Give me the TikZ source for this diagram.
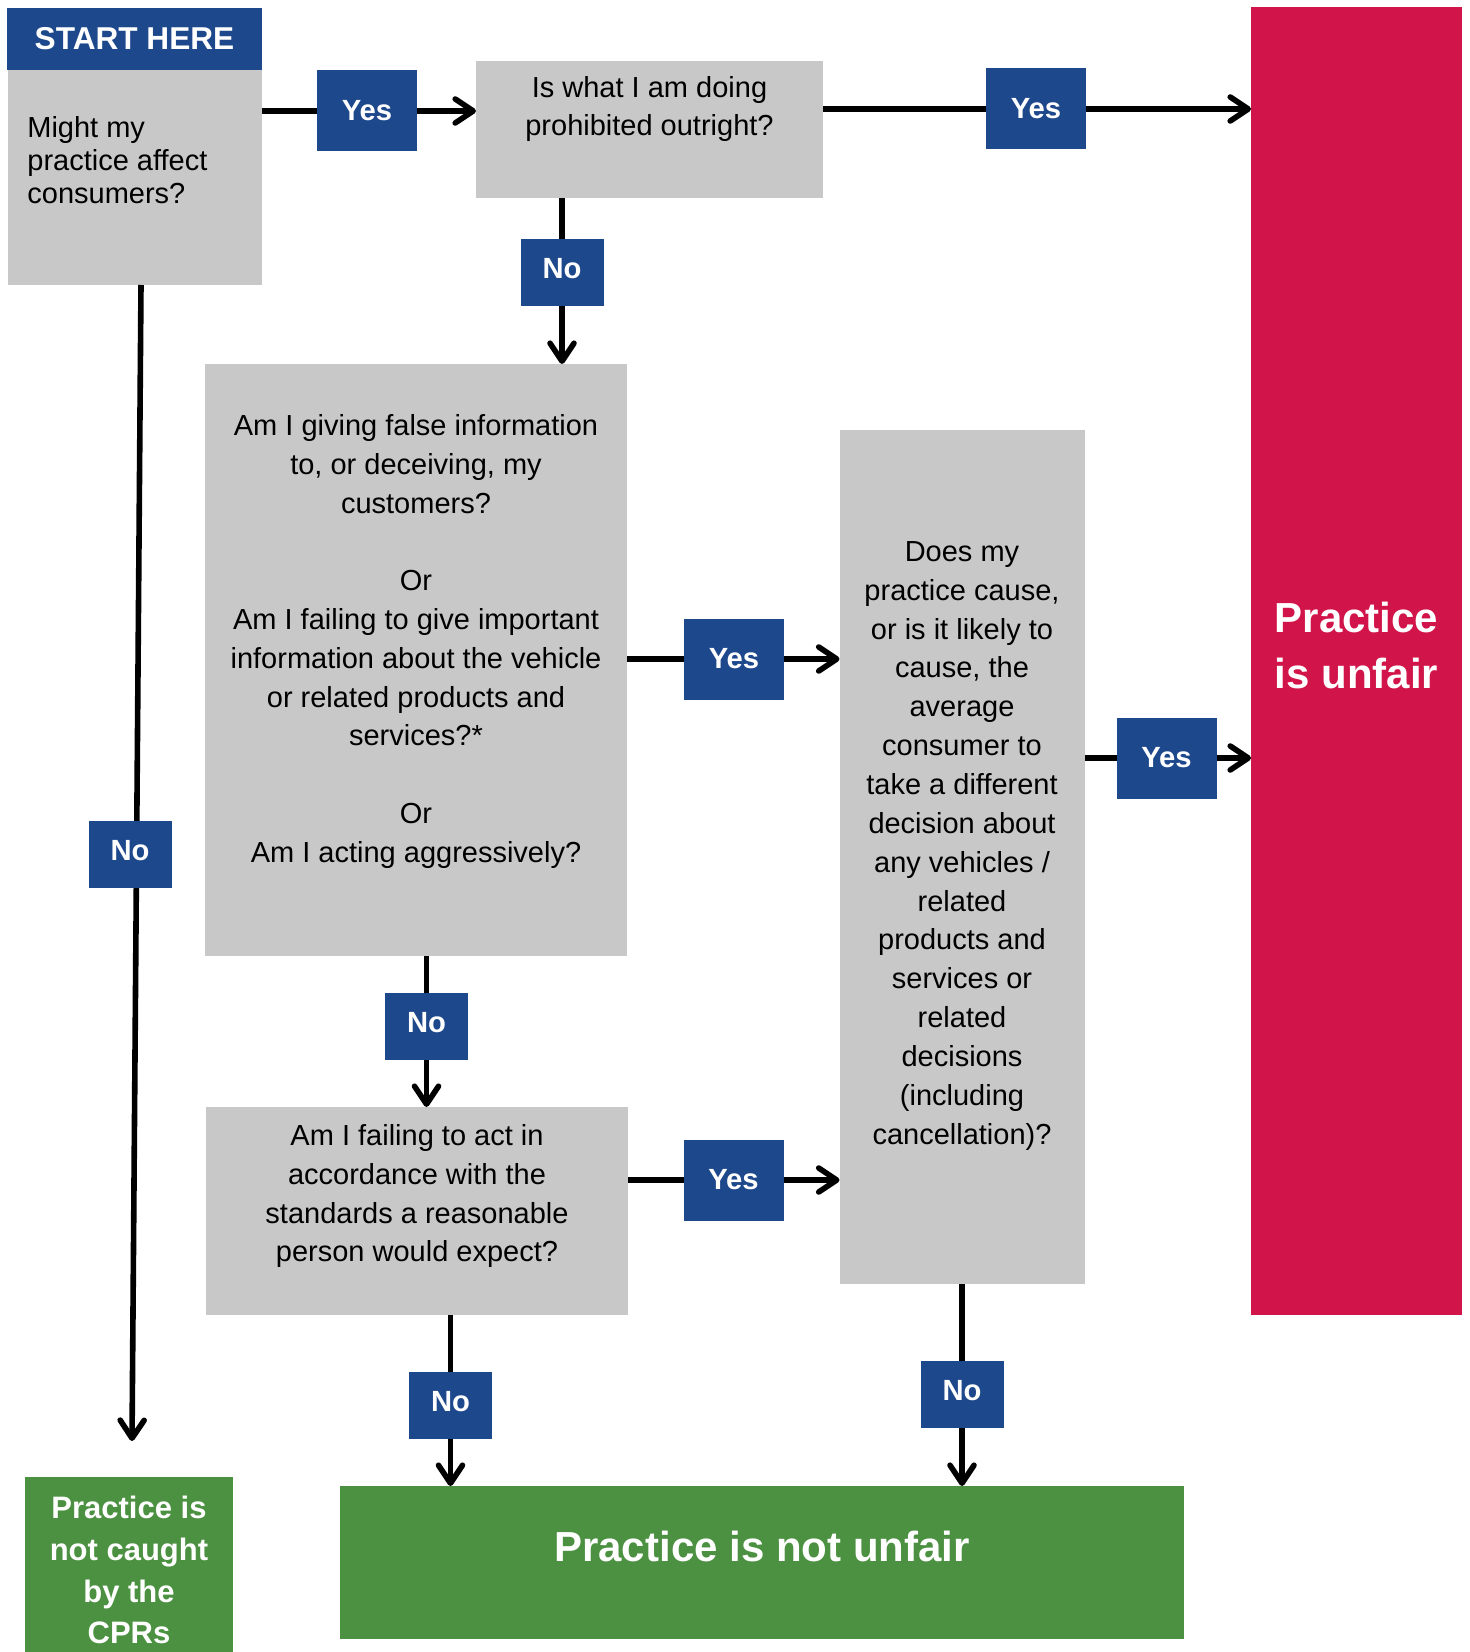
\documentclass[tikz,border=0pt]{standalone}
\usepackage{fontspec}
\setmainfont{Liberation Sans}
\usetikzlibrary{arrows.meta}
\definecolor{fblue}{RGB}{30,72,140}
\definecolor{fred}{RGB}{209,21,74}
\definecolor{fgreen}{RGB}{76,145,65}
\definecolor{fgray}{RGB}{200,200,200}
\begin{document}
\begin{tikzpicture}[x=0.5pt,y=-0.5pt,
  qbox/.style={fill=fgray, draw=none, inner sep=0pt, outer sep=0pt},
  gbox/.style={fill=fgreen, draw=none, inner sep=0pt, outer sep=0pt},
  ybox/.style={fill=fblue, text=white, font=\fontsize{14.6}{16}\selectfont\bfseries,
    minimum width=50pt, minimum height=40.5pt, inner sep=0pt, outer sep=0pt},
  nbox/.style={ybox, minimum width=41.5pt, minimum height=33.5pt, text depth=4.5pt},
  qtext/.style={inner sep=0pt, anchor=north, align=center},
  wtext/.style={inner sep=0pt, anchor=north, align=center, text=white},
  conn/.style={line width=2.8pt},
  conna/.style={line width=2.8pt, -{Straight Barb[length=9pt,width=12pt,round]}}
]
\useasboundingbox (0,0) rectangle (1469,1652);

% boxes
\node[fill=fblue, text=white, font=\fontsize{15.8}{18}\selectfont\bfseries,
  minimum width=127.5pt, minimum height=31pt, inner sep=0pt] (start) at (134.5,39) {START HERE};
\node[qbox, minimum width=127pt, minimum height=107.5pt] (q1) at (135,177.5) {};
\node[qtext, anchor=north west, align=left, font=\fontsize{14.5}{16.5}\selectfont] (q1t) at (27,116)
  {Might my\\practice affect\\consumers?};

\node[qbox, minimum width=173.5pt, minimum height=68.5pt] (q2) at (649.5,129.5) {};
\node[qtext, font=\fontsize{14.5}{19}\selectfont] (q2t) at (649.5,76)
  {Is what I am doing\\prohibited outright?};

\node[fill=fred, draw=none, minimum width=105.5pt, minimum height=654pt, inner sep=0pt, outer sep=0pt] (red) at (1356.5,661) {};
\node[wtext, font=\fontsize{21}{28}\selectfont\bfseries] (redt) at (1356.5,602) {Practice\\is unfair};

\node[qbox, minimum width=211pt, minimum height=296pt] (q3) at (416,660) {};
\node[qtext, font=\fontsize{14.5}{19.4}\selectfont] (q3t) at (416,414)
  {Am I giving false information\\to, or deceiving, my\\customers?\\[19.4pt]Or\\Am I failing to give important\\information about the vehicle\\or related products and\\services?*\\[19.4pt]Or\\Am I acting aggressively?};

\node[qbox, minimum width=122.5pt, minimum height=427pt] (q4) at (962,857) {};
\node[qtext, font=\fontsize{14.5}{19.43}\selectfont] (q4t) at (962,541)
  {Does my\\practice cause,\\or is it likely to\\cause, the\\average\\consumer to\\take a different\\decision about\\any vehicles /\\related\\products and\\services or\\related\\decisions\\(including\\cancellation)?};

\node[qbox, minimum width=211pt, minimum height=104pt] (q5) at (417,1211) {};
\node[qtext, font=\fontsize{14.5}{19.4}\selectfont] (q5t) at (417,1124)
  {Am I failing to act in\\accordance with the\\standards a reasonable\\person would expect?};

\node[gbox, minimum width=422pt, minimum height=76.5pt] (gbig) at (762,1562.5) {};
\node[wtext, font=\fontsize{21}{28}\selectfont\bfseries] (gbigt) at (762,1531) {Practice is not unfair};

\node[gbox, minimum width=104pt, minimum height=87.5pt] (gsmall) at (129,1564.5) {};
\node[wtext, font=\fontsize{15.5}{20.8}\selectfont\bfseries] (gsmallt) at (129,1496)
  {Practice is\\not caught\\by the\\CPRs};

% left long connector (drawn under its label)
\coordinate (lt) at ([xshift=3pt]q1.south);
\coordinate (lb) at (132,1441);
\draw[conna] (lt) -- (lb);

% labels
\node[ybox] (y1) at (367,111) {Yes};
\node[ybox] (y2) at (1036,109) {Yes};
\node[nbox] (n1) at (562,273) {No};
\node[ybox] (y3) at (734,659) {Yes};
\node[ybox] (y4) at (1166.5,758) {Yes};
\node[nbox] (n2) at (426.5,1026.5) {No};
\node[ybox] (y5) at (733.5,1180) {Yes};
\node[nbox] (n3) at (450.5,1405.5) {No};
\node[nbox] (n4) at (962,1394.5) {No};
\node[nbox] (n5) at (130,854.5) {No};

% connectors
\draw[conn] (q1.east |- y1) -- (y1);
\draw[conna] (y1) -- (q2.west |- y1);
\draw[conn] (q2.east |- y2) -- (y2);
\draw[conna] (y2) -- (red.west |- y2);
\draw[conn] (q2.south -| n1) -- (n1);
\draw[conna] (n1) -- (q3.north -| n1);
\draw[conn] (q3.east |- y3) -- (y3);
\draw[conna] (y3) -- (q4.west |- y3);
\draw[conn] (q4.east |- y4) -- (y4);
\draw[conna] (y4) -- (red.west |- y4);
\draw[conn] (q3.south -| n2) -- (n2);
\draw[conna] (n2) -- (q5.north -| n2);
\draw[conn] (q5.east |- y5) -- (y5);
\draw[conna] (y5) -- (q4.west |- y5);
\draw[conn] (q5.south -| n3) -- (n3);
\draw[conna] (n3) -- (gbig.north -| n3);
\draw[conn] (q4.south -| n4) -- (n4);
\draw[conna] (n4) -- (gbig.north -| n4);
\end{tikzpicture}
\end{document}
